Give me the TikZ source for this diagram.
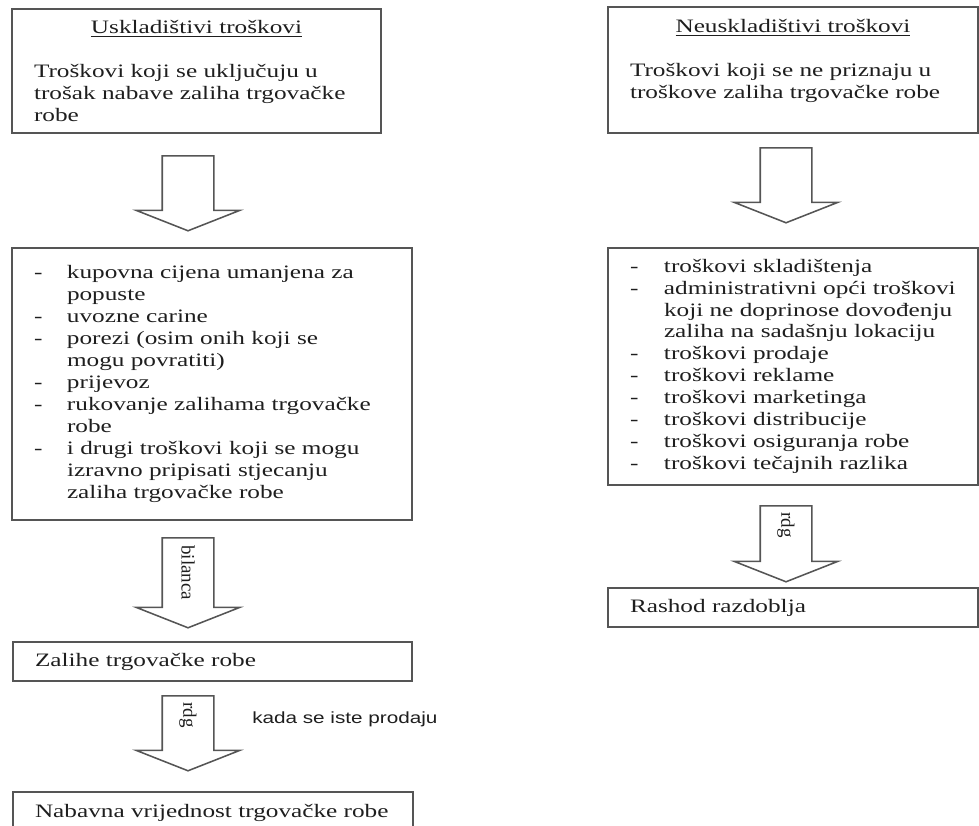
\documentclass[tikz,border=0pt]{standalone}
\usepackage{fontspec}
\setmainfont{Liberation Serif}[FakeStretch=1.33]
\newfontfamily\rotserif{Liberation Serif}
\newfontfamily\notesans{Liberation Sans}[FakeStretch=1.28]
\usetikzlibrary{shapes.arrows,calc}

\definecolor{okvirsiva}{RGB}{85,85,85}
\definecolor{tekstsiva}{RGB}{30,30,30}

\tikzset{
  okvir/.style={draw=okvirsiva, line width=1.2pt, anchor=north west, inner xsep=5.5mm,
    inner ysep=0pt, outer sep=0pt, align=left, text=tekstsiva,
    font=\fontsize{13.5}{15.6}\selectfont},
  strelica/.style={single arrow, draw=okvirsiva, line width=1.1pt, rotate=-90, anchor=tail,
    minimum width=25.5mm, single arrow head extend=6.5mm, single arrow tip angle=137,
    inner xsep=0pt, inner ysep=6.25mm},
  oznaka/.style={rotate=-90, anchor=west, inner sep=0pt, text=tekstsiva,
    font=\rotserif\fontsize{13.5}{15.6}\selectfont},
}

\begin{document}
\begin{tikzpicture}[x=0.25mm, y=-0.25mm]
  \path[use as bounding box] (0,0) rectangle (979,825);
  \clip (0,0) rectangle (979,825);

  % Lijevi stupac: uskladistivi troskovi
  \node[okvir, text width=81.25mm, minimum height=31mm] (uskl) at (12,9)
    {\hfill\underline{Uskladištivi troškovi}\hfill\null\\[15.6pt]
     Troškovi koji se uključuju u\\ trošak nabave zaliha trgovačke\\ robe};

  \node[okvir, text width=89mm, minimum height=68mm] (usklStavke) at (12,248)
    {\begin{tabular}{@{}p{8.25mm}@{}l@{}}
      - & kupovna cijena umanjena za\\
        & popuste\\
      - & uvozne carine\\
      - & porezi (osim onih koji se\\
        & mogu povratiti)\\
      - & prijevoz\\
      - & rukovanje zalihama trgovačke\\
        & robe\\
      - & i drugi troškovi koji se mogu\\
        & izravno pripisati stjecanju\\
        & zaliha trgovačke robe
     \end{tabular}};

  \node[okvir, text width=88.75mm, minimum height=9.75mm] (zalihe) at (13,642)
    {Zalihe trgovačke robe};

  \node[okvir, text width=89mm, minimum height=10.5mm] (nabavna) at (13,792)
    {Nabavna vrijednost trgovačke robe};

  % Desni stupac: neuskladistivi troskovi
  \node[okvir, text width=81.5mm, minimum height=31.5mm] (neuskl) at (608,7)
    {\hfill\underline{Neuskladištivi troškovi}\hfill\null\\[15.6pt]
     Troškovi koji se ne priznaju u\\ troškove zaliha trgovačke robe\\ \mbox{}};

  \node[okvir, text width=81.5mm, minimum height=59.25mm] (neusklStavke) at (608,248)
    {\begin{tabular}{@{}p{8.5mm}@{}l@{}}
      - & troškovi skladištenja\\
      - & administrativni opći troškovi\\
        & koji ne doprinose dovođenju\\
        & zaliha na sadašnju lokaciju\\
      - & troškovi prodaje\\
      - & troškovi reklame\\
      - & troškovi marketinga\\
      - & troškovi distribucije\\
      - & troškovi osiguranja robe\\
      - & troškovi tečajnih razlika
     \end{tabular}};

  \node[okvir, text width=81.5mm, minimum height=9.75mm] (rashod) at (608,588)
    {Rashod razdoblja};

  % Strelice
  \node[strelica, minimum height=18.75mm] (s1) at ($(uskl.south)+(-8.5,22)$) {};
  \node[strelica, minimum height=22.5mm] (s2) at ($(usklStavke.south)+(-24,17)$) {};
  \node[strelica, minimum height=18.75mm] (s3) at ($(zalihe.south)+(-24.5,14)$) {};
  \node[strelica, minimum height=18.75mm] (d1) at ($(neuskl.south)+(-7,14)$) {};
  \node[strelica, minimum height=19mm] (d2) at ($(neusklStavke.south)+(-7,20)$) {};

  % Oznake na strelicama
  \node[oznaka] (bilanca) at ($(s2.tail)+(0,8)$) {bilanca};
  \node[oznaka] (rdgLijevo) at ($(s3.tail)+(0,7)$) {rdg};
  \node[oznaka] (rdgDesno) at ($(d2.tail)+(0,7)$) {rdg};
  \node[anchor=west, inner sep=0pt, text=tekstsiva, font=\notesans\fontsize{11.5}{13}\selectfont]
    (prodaja) at ($(s3.tail)+(64,24)$) {kada se iste prodaju};
\end{tikzpicture}
\end{document}
